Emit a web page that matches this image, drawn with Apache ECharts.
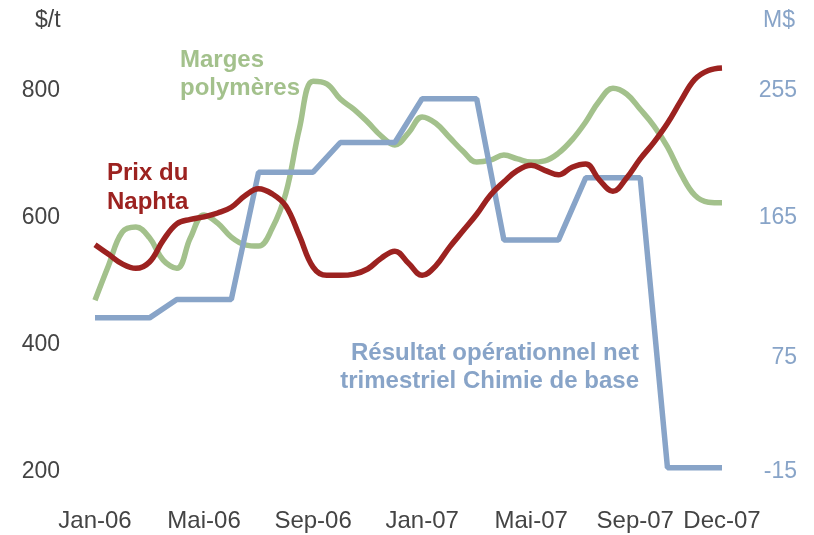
<!DOCTYPE html>
<html>
<head>
<meta charset="utf-8">
<script src="https://cdn.jsdelivr.net/npm/echarts@6/dist/echarts.min.js"></script>
<style>
  html, body { margin: 0; padding: 0; background: #fff; }
  #chart { width: 814px; height: 535px; }
</style>
</head>
<body>
<div id="chart"></div>
<script>
// x position = month index from Jan-06 (0) to Dec-07 (23)
const monthLabels = {0: "Jan-06", 4: "Mai-06", 8: "Sep-06", 12: "Jan-07", 16: "Mai-07", 20: "Sep-07", 23: "Dec-07"};
const xTicks = [0, 4, 8, 12, 16, 20, 23];
const leftTicks = [200, 400, 600, 800];
const rightTicks = [-15, 75, 165, 255];

// half-monthly readings, $/t
const naphta = [557, 542, 527, 520, 530, 564, 590, 597, 601, 607, 616, 634, 645, 637, 618, 571,
  522, 509, 509, 511, 519, 536, 547, 528, 509, 524, 553, 579, 605, 635, 656, 674,
  682, 674, 667, 679, 684, 659, 641, 662, 692, 718, 748, 784, 817, 831, 835];
const marges = [470, 525, 577, 585, 568, 533, 520, 568, 604, 591, 569, 557, 555, 583, 638, 740,
  814, 810, 786, 770, 750, 728, 714, 733, 758, 748, 726, 704, 687, 690, 698, 692,
  687, 689, 701, 722, 750, 783, 803, 794, 770, 744, 711, 668, 635, 624, 623];
// monthly, M$ (quarterly result repeated over its 3 months)
const resultat = [94, 94, 94, 107, 107, 107, 197, 197, 197, 218, 218, 218,
  249, 249, 249, 149, 149, 149, 193, 193, 193, -12, -12, -12];

const red = "#9C2220";
const green = "#A3C18C";
const blue = "#88A4C8";
const grey = "#444444";
const font = "'Liberation Sans', Arial, sans-serif";

const chart = echarts.init(document.getElementById("chart"));

chart.setOption({
  animation: false,
  textStyle: { fontFamily: font },
  grid: { left: 95, right: 92, top: 52, bottom: 63 },
  xAxis: {
    type: "value",
    min: 0,
    max: 23,
    axisLine: { show: false },
    axisTick: { show: false },
    splitLine: { show: false },
    axisLabel: {
      customValues: xTicks,
      // Sep-07 sits a little left of its month in the original
      formatter: (v) => (v === 20 ? "{s|" + monthLabels[v] + "}" : monthLabels[v] || ""),
      rich: { s: { color: grey, fontSize: 24, fontFamily: font, padding: [0, 10, 0, 0] } },
      color: grey,
      fontSize: 24,
      margin: 37,
      fontFamily: font
    }
  },
  yAxis: [
    {
      type: "value",
      min: 200,
      max: 860,
      axisLine: { show: false },
      axisTick: { show: false },
      splitLine: { show: false },
      axisLabel: { customValues: leftTicks, color: grey, fontSize: 23, margin: 35, fontFamily: font }
    },
    {
      type: "value",
      position: "right",
      min: -15,
      max: 282,
      axisLine: { show: false },
      axisTick: { show: false },
      splitLine: { show: false },
      axisLabel: {
        customValues: rightTicks,
        formatter: (v) => (v === 75 ? "{d|75}" : String(v)),
        rich: { d: { color: blue, fontSize: 23, fontFamily: font, padding: [26, 0, 0, 0] } },
        color: blue,
        fontSize: 23,
        margin: 75,
        align: "right",
        fontFamily: font
      }
    }
  ],
  graphic: [
    { type: "text", left: 35, top: 9, style: { text: "$/t", fill: grey, font: "23px " + font } },
    { type: "text", left: 763, top: 9, style: { text: "M$", fill: blue, font: "23px " + font } },
    { type: "text", left: 180, top: 46, style: { text: "Marges\npolymères", fill: green, font: "bold 24px " + font, lineHeight: 28 } },
    { type: "text", left: 107, top: 159, style: { text: "Prix du\nNaphta", fill: red, font: "bold 24px " + font, lineHeight: 29 } },
    { type: "text", right: 175, top: 341, style: { text: "Résultat opérationnel net", fill: blue, font: "bold 24px " + font } },
    { type: "text", right: 175, top: 369, style: { text: "trimestriel Chimie de base", fill: blue, font: "bold 24px " + font } }
  ],
  series: [
    {
      name: "Marges polymères",
      type: "line",
      smooth: 0.4,
      symbol: "none",
      lineStyle: { color: green, width: 5.5 },
      data: marges.map((v, i) => [i / 2, v])
    },
    {
      name: "Résultat opérationnel net trimestriel Chimie de base",
      type: "line",
      yAxisIndex: 1,
      symbol: "none",
      lineStyle: { color: blue, width: 5.5 },
      data: resultat.map((v, i) => [i, v])
    },
    {
      name: "Prix du Naphta",
      type: "line",
      smooth: 0.4,
      symbol: "none",
      lineStyle: { color: red, width: 5.5 },
      data: naphta.map((v, i) => [i / 2, v])
    }
  ]
});
</script>
</body>
</html>
